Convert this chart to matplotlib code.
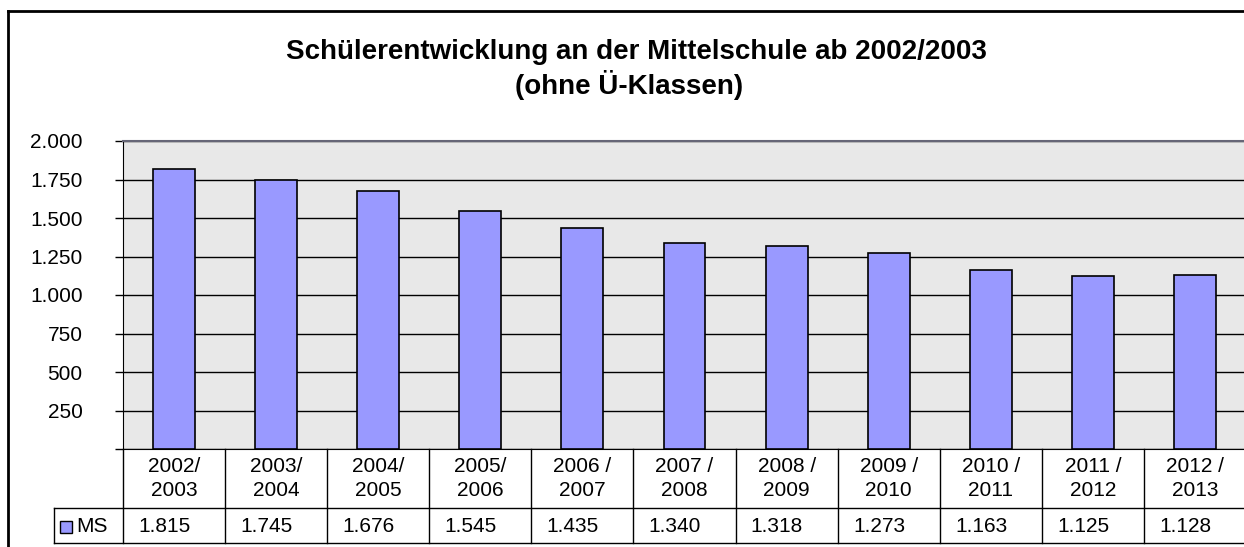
import matplotlib.pyplot as plt
import matplotlib.transforms as mtransforms
from matplotlib.lines import Line2D
from matplotlib.patches import Rectangle

# data
school_years = ['2002/\n2003', '2003/\n2004', '2004/\n2005', '2005/\n2006',
                '2006 /\n2007', '2007 /\n2008', '2008 /\n2009', '2009 /\n2010',
                '2010 /\n2011', '2011 /\n2012', '2012 /\n2013']
ms_students = [1815, 1745, 1676, 1545, 1435, 1340, 1318, 1273, 1163, 1125, 1128]
y_ticks = [0, 250, 500, 750, 1000, 1250, 1500, 1750, 2000]

W, H = 1244, 547
plt.rcParams['font.family'] = ['Liberation Sans', 'DejaVu Sans']


def fx(px):
    return px / W


def fy(py):
    return 1 - py / H


def de_num(v):
    return f'{v:,}'.replace(',', '.')


fig = plt.figure(figsize=(W / 100, H / 100), dpi=100)

# outer chart frame (cut off at the right and bottom)
fig.add_artist(Line2D([fx(8), fx(8)], [fy(11), fy(560)], color='black', lw=2))
fig.add_artist(Line2D([fx(8), fx(1260)], [fy(11), fy(11)], color='black', lw=2))

fig.text(fx(636), fy(52), 'Schülerentwicklung an der Mittelschule ab 2002/2003',
         ha='center', va='center', fontsize=20, fontweight='bold')
fig.text(fx(629), fy(85), '(ohne Ü-Klassen)',
         ha='center', va='center', fontsize=20, fontweight='bold')

ax = fig.add_axes([fx(123), fy(449), fx(1246 - 123), fy(141) - fy(449)])
ax.set_facecolor('#e8e8e8')
x = range(len(ms_students))
ax.bar(x, ms_students, width=0.41, color='#9999ff', edgecolor='black',
       linewidth=1.2, zorder=3)

ax.set_xlim(-0.5, len(ms_students) - 0.5)
ax.set_ylim(0, 2000)
ax.set_yticks(y_ticks)
ax.set_yticklabels(['' if v == 0 else de_num(v) for v in y_ticks], fontsize=15)
ax.set_xticks([])
ax.tick_params(axis='y', length=6, width=1, color='black', pad=23)
ax.grid(axis='y', color='black', lw=1, zorder=1)
ax.set_axisbelow(True)
ax.spines['top'].set_color('#666677')
ax.spines['top'].set_linewidth(1.5)
ax.spines['right'].set_visible(False)
ax.spines['left'].set_color('black')
ax.spines['bottom'].set_color('black')

# data table below the plot
trans = mtransforms.blended_transform_factory(ax.transData, fig.transFigure)
n = len(ms_students)
for b in range(n + 1):
    ax.add_line(Line2D([b - 0.5, b - 0.5], [fy(449), fy(543)], transform=trans,
                       color='black', lw=1, clip_on=False))
for yy in (508, 543):
    fig.add_artist(Line2D([fx(54), fx(1260)], [fy(yy), fy(yy)], color='black', lw=1))
fig.add_artist(Line2D([fx(54), fx(54)], [fy(508), fy(543)], color='black', lw=1))

for i, (lab, val) in enumerate(zip(school_years, ms_students)):
    top, bottom = lab.split('\n')
    ax.text(i, fy(467), top, transform=trans, ha='center', va='center',
            fontsize=15, clip_on=False)
    ax.text(i, fy(491), bottom, transform=trans, ha='center', va='center',
            fontsize=15, clip_on=False)
    ax.text(i - 0.35, fy(527), de_num(val), transform=trans, ha='left', va='center',
            fontsize=15, clip_on=False)

fig.add_artist(Rectangle((fx(60), fy(533)), fx(12), fy(521) - fy(533),
                         facecolor='#9999ff', edgecolor='black', lw=1))
fig.text(fx(76), fy(527), 'MS', ha='left', va='center', fontsize=15)

fig.savefig('out.png', dpi=100)
